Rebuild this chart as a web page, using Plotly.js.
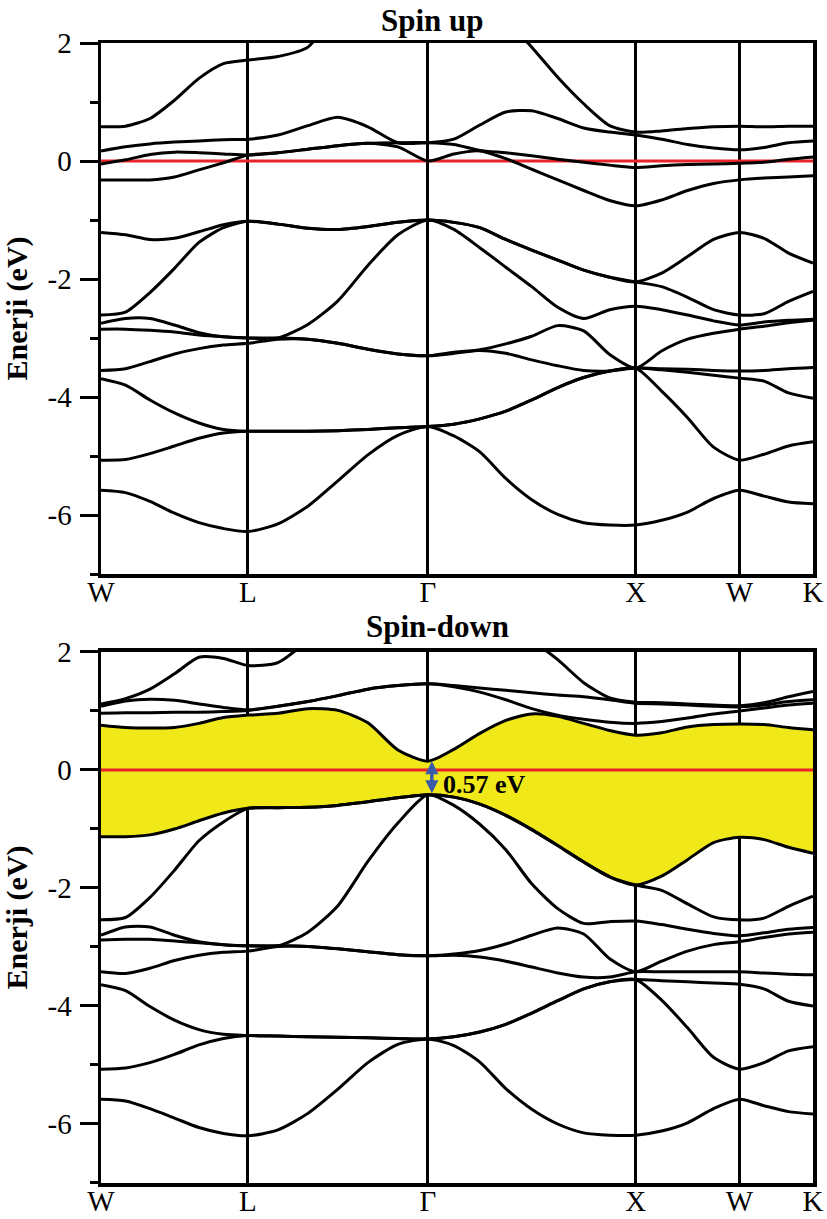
<!DOCTYPE html>
<html><head><meta charset="utf-8">
<script src="https://cdn.plot.ly/plotly-3.0.1.min.js"></script>
<style>html,body{margin:0;padding:0;background:#fff}</style>
</head><body><div id="chart" style="width:827px;height:1219px"></div>
<script>
// High-symmetry path (k in units of 2π/a)
const kLabels = ['W', 'L', 'Γ', 'X', 'W', 'K'];
const kPoints = [0, 0.7071, 1.5731, 2.5731, 3.0731, 3.4267];
const kGrid = [0, 0.1179, 0.2357, 0.3536, 0.4714, 0.5893, 0.7071,
  0.8514, 0.9958, 1.1401, 1.2845, 1.4288, 1.5731,
  1.6981, 1.8231, 1.9481, 2.0731, 2.1981, 2.3231, 2.4481, 2.5731,
  2.6981, 2.8231, 2.9481, 3.0731,
  3.1910, 3.3088, 3.4267];
const yTickVals = [-6, -4, -2, 0, 2];
const yTickText = ['-6', '-4', '-2', '0', '2'];

// Spin up bands (eV)
const up1 = [-5.58,-5.62,-5.77,-5.97,-6.13,-6.23,-6.28, -6.15,-5.85,-5.42,-4.98,-4.65,-4.50, -4.66,-4.93,-5.38,-5.74,-5.99,-6.13,-6.17,-6.17, -6.09,-5.95,-5.72,-5.58, -5.68,-5.78,-5.81];
const up2 = [-5.07,-5.06,-4.96,-4.83,-4.70,-4.61,-4.58, -4.58,-4.58,-4.57,-4.55,-4.52,-4.50, -4.46,-4.37,-4.24,-4.05,-3.84,-3.67,-3.56,-3.51, -3.90,-4.35,-4.85,-5.07, -4.97,-4.83,-4.76];
const up3 = [-3.69,-3.80,-4.05,-4.27,-4.44,-4.55,-4.58, -4.58,-4.58,-4.57,-4.55,-4.52,-4.50, -4.46,-4.37,-4.24,-4.05,-3.84,-3.67,-3.56,-3.51, -3.54,-3.58,-3.63,-3.68, -3.73,-3.93,-4.02];
const up4 = [-3.55,-3.52,-3.40,-3.27,-3.18,-3.12,-3.09, -3.02,-3.02,-3.09,-3.19,-3.27,-3.30, -3.24,-3.21,-3.26,-3.37,-3.47,-3.55,-3.56,-3.51, -3.52,-3.53,-3.55,-3.56, -3.55,-3.52,-3.50];
const up5 = [-2.85,-2.85,-2.87,-2.90,-2.95,-2.98,-3.00, -3.00,-3.02,-3.09,-3.19,-3.27,-3.30, -3.26,-3.20,-3.10,-2.97,-2.79,-2.88,-3.28,-3.51, -3.22,-3.02,-2.92,-2.85, -2.80,-2.74,-2.70];
const up6 = [-2.75,-2.67,-2.67,-2.78,-2.91,-2.98,-3.00, -3.00,-2.77,-2.37,-1.77,-1.25,-1.00, -1.16,-1.47,-1.80,-2.13,-2.48,-2.67,-2.52,-2.46, -2.52,-2.61,-2.71,-2.78, -2.73,-2.70,-2.68];
const up7 = [-2.61,-2.56,-2.23,-1.82,-1.38,-1.13,-1.02, -1.07,-1.14,-1.16,-1.11,-1.04,-1.00, -1.04,-1.13,-1.33,-1.51,-1.68,-1.85,-1.97,-2.05, -2.13,-2.31,-2.52,-2.61, -2.59,-2.38,-2.21];
const up8 = [-1.21,-1.25,-1.33,-1.31,-1.20,-1.08,-1.02, -1.07,-1.14,-1.16,-1.11,-1.04,-1.00, -1.04,-1.13,-1.33,-1.51,-1.68,-1.85,-1.97,-2.05, -1.90,-1.62,-1.33,-1.21, -1.31,-1.56,-1.73];
const up9 = [-0.32,-0.32,-0.32,-0.27,-0.15,-0.03,0.10, 0.14,0.20,0.26,0.30,0.24,0.00, 0.12,0.17,0.04,-0.14,-0.32,-0.50,-0.67,-0.76, -0.66,-0.50,-0.38,-0.32, -0.29,-0.27,-0.25];
const up10 = [-0.05,0.02,0.11,0.15,0.14,0.12,0.10, 0.14,0.20,0.26,0.30,0.31,0.31, 0.28,0.18,0.14,0.09,0.03,-0.02,-0.07,-0.11, -0.08,-0.06,-0.05,-0.04, -0.02,0.03,0.07];
const up11 = [0.17,0.24,0.29,0.32,0.34,0.36,0.37, 0.44,0.60,0.74,0.58,0.31,0.31, 0.37,0.61,0.83,0.85,0.72,0.56,0.49,0.44, 0.37,0.28,0.22,0.19, 0.23,0.31,0.34];
const up12 = [0.58,0.59,0.72,1.03,1.40,1.65,1.71, 1.77,1.93,2.60,3.20,3.50,3.60, 3.50,3.00,2.40,1.93,1.42,0.97,0.60,0.49, 0.51,0.55,0.58,0.59, 0.58,0.59,0.59];

// Spin down bands (eV)
const dn1 = [-5.58,-5.61,-5.74,-5.90,-6.06,-6.16,-6.20, -6.10,-5.82,-5.41,-4.96,-4.65,-4.56, -4.67,-4.95,-5.40,-5.75,-6.00,-6.15,-6.19,-6.19, -6.12,-5.98,-5.74,-5.58, -5.69,-5.79,-5.83];
const dn2 = [-5.07,-5.05,-4.96,-4.82,-4.66,-4.55,-4.50, -4.51,-4.52,-4.53,-4.54,-4.55,-4.56, -4.52,-4.44,-4.31,-4.12,-3.91,-3.71,-3.59,-3.55, -3.90,-4.37,-4.87,-5.07, -4.96,-4.76,-4.69];
const dn3 = [-3.64,-3.74,-4.01,-4.24,-4.40,-4.48,-4.50, -4.51,-4.52,-4.53,-4.54,-4.55,-4.56, -4.52,-4.44,-4.31,-4.12,-3.91,-3.71,-3.59,-3.55, -3.57,-3.59,-3.61,-3.63, -3.71,-3.92,-4.00];
const dn4 = [-3.42,-3.45,-3.36,-3.23,-3.14,-3.09,-3.07, -2.99,-2.99,-3.03,-3.08,-3.13,-3.15, -3.14,-3.17,-3.24,-3.34,-3.44,-3.51,-3.51,-3.42, -3.42,-3.42,-3.42,-3.42, -3.44,-3.46,-3.47];
const dn5 = [-2.88,-2.87,-2.87,-2.90,-2.93,-2.96,-2.98, -2.98,-2.99,-3.03,-3.08,-3.13,-3.15, -3.12,-3.06,-2.95,-2.80,-2.68,-2.78,-3.20,-3.42, -3.24,-3.07,-2.96,-2.91, -2.84,-2.78,-2.75];
const dn6 = [-2.80,-2.66,-2.66,-2.80,-2.91,-2.96,-2.98, -2.98,-2.75,-2.30,-1.55,-0.90,-0.42, -0.60,-0.92,-1.35,-1.93,-2.35,-2.60,-2.57,-2.56, -2.62,-2.70,-2.77,-2.81, -2.76,-2.70,-2.67];
const dn7 = [-2.54,-2.50,-2.16,-1.70,-1.20,-0.88,-0.65, -0.64,-0.63,-0.60,-0.54,-0.47,-0.42, -0.46,-0.58,-0.77,-1.01,-1.28,-1.56,-1.81,-1.95, -2.04,-2.27,-2.49,-2.54, -2.51,-2.31,-2.14];
const dn8 = [-1.13,-1.13,-1.10,-1.00,-0.86,-0.73,-0.65, -0.64,-0.63,-0.60,-0.54,-0.47,-0.42, -0.46,-0.58,-0.77,-1.01,-1.28,-1.56,-1.81,-1.95, -1.80,-1.52,-1.23,-1.14, -1.18,-1.31,-1.41];
const dn9 = [0.76,0.72,0.71,0.72,0.79,0.89,0.93, 0.96,1.04,1.01,0.80,0.34,0.15, 0.35,0.62,0.84,0.95,0.91,0.79,0.67,0.59, 0.63,0.73,0.77,0.78, 0.77,0.72,0.68];
const dn10 = [0.96,0.97,0.97,0.98,0.98,0.99,1.01, 1.08,1.16,1.26,1.37,1.43,1.46, 1.41,1.32,1.19,1.04,0.93,0.86,0.81,0.79, 0.82,0.88,0.95,1.00, 1.05,1.10,1.13];
const dn11 = [1.08,1.17,1.20,1.18,1.12,1.06,1.02, 1.08,1.16,1.26,1.37,1.43,1.46, 1.43,1.39,1.35,1.31,1.27,1.24,1.19,1.13, 1.12,1.10,1.08,1.07, 1.10,1.16,1.19];
const dn12 = [1.12,1.21,1.37,1.63,1.91,1.89,1.77, 1.82,2.20,2.70,3.10,3.40,3.50, 3.30,2.90,2.50,2.20,1.87,1.48,1.22,1.15, 1.14,1.12,1.10,1.09, 1.14,1.24,1.33];

const gapText = '<b>0.57 eV</b>';
const fermiLevel = [0, 0];

const upBands = [up1, up2, up3, up4, up5, up6, up7, up8, up9, up10, up11, up12];
const dnBands = [dn1, dn2, dn3, dn4, dn5, dn6, dn7, dn8, dn9, dn10, dn11, dn12];

const SERIF = 'Liberation Serif';
const bandLine = {color: '#000', width: 3, shape: 'spline', smoothing: 0.7};
const traces = [];

// Yellow gap region in spin-down panel (between VBM band dn8 and CBM band dn9)
traces.push({x: kGrid, y: dn8, xaxis: 'x2', yaxis: 'y2', mode: 'lines',
  line: {color: 'rgba(0,0,0,0)', width: 0, shape: 'spline', smoothing: 0.7}, hoverinfo: 'skip', showlegend: false});
traces.push({x: kGrid, y: dn9, xaxis: 'x2', yaxis: 'y2', mode: 'lines', fill: 'tonexty',
  fillcolor: '#f0e818', line: {color: 'rgba(0,0,0,0)', width: 0, shape: 'spline', smoothing: 0.7}, hoverinfo: 'skip', showlegend: false});

// Fermi level
const kEnds = [kPoints[0], kPoints[kPoints.length - 1]];
traces.push({x: kEnds, y: fermiLevel, xaxis: 'x', yaxis: 'y', mode: 'lines', line: {color: '#e8232a', width: 3}, showlegend: false});
traces.push({x: kEnds, y: fermiLevel, xaxis: 'x2', yaxis: 'y2', mode: 'lines', line: {color: '#e8232a', width: 3}, showlegend: false});

upBands.forEach(b => traces.push({x: kGrid, y: b, xaxis: 'x', yaxis: 'y', mode: 'lines', line: bandLine, showlegend: false}));
dnBands.forEach(b => traces.push({x: kGrid, y: b, xaxis: 'x2', yaxis: 'y2', mode: 'lines', line: bandLine, showlegend: false}));

function xAxis(anchor) {
  return {anchor: anchor, domain: [0, 1], range: [kPoints[0], kPoints[kPoints.length - 1]],
    tickmode: 'array', tickvals: kPoints, ticktext: kLabels, ticks: '', ticklen: 0,
    ticklabelstandoff: -10,
    showgrid: true, gridcolor: '#000', gridwidth: 3,
    showline: true, linecolor: '#000', linewidth: 3.5, mirror: true, zeroline: false,
    tickfont: {family: SERIF, size: 29, color: '#000'}, fixedrange: true};
}
function yAxis(anchor, domain) {
  return {anchor: anchor, domain: domain, range: [-7, 2], autorange: false,
    tickmode: 'array', tickvals: yTickVals, ticktext: yTickText,
    ticks: 'outside', ticklen: 18, tickwidth: 3, tickcolor: '#000',
    minor: {tickmode: 'linear', tick0: 0, dtick: 1, ticks: 'outside', ticklen: 8, tickwidth: 3, tickcolor: '#000', showgrid: false},
    showline: true, linecolor: '#000', linewidth: 3.5, mirror: true, zeroline: false, showgrid: false,
    ticklabelstandoff: 2,
    tickfont: {family: SERIF, size: 29, color: '#000'},
    title: {text: '<b>Enerji (eV)</b>', font: {family: SERIF, size: 30, color: '#000'}, standoff: 14},
    fixedrange: true};
}

const layout = {
  width: 827, height: 1219,
  margin: {l: 101, r: 14, t: 43, b: 36},
  paper_bgcolor: '#fff', plot_bgcolor: '#fff',
  font: {family: SERIF, color: '#000'},
  showlegend: false,
  xaxis: xAxis('y'),
  yaxis: yAxis('x', [0.5342, 1]),
  xaxis2: xAxis('y2'),
  yaxis2: yAxis('x2', [0, 0.4658]),
  annotations: [
    {text: '<b>Spin up</b>', xref: 'paper', yref: 'paper', x: 0.465, y: 1.0198, xanchor: 'center', yanchor: 'middle', showarrow: false, font: {family: SERIF, size: 31, color: '#000'}},
    {text: '<b>Spin-down</b>', xref: 'paper', yref: 'paper', x: 0.472, y: 0.4885, xanchor: 'center', yanchor: 'middle', showarrow: false, font: {family: SERIF, size: 31, color: '#000'}},
    {x: kPoints[2], y: dn9[12], ax: kPoints[2], ay: dn8[12], xref: 'x2', yref: 'y2', axref: 'x2', ayref: 'y2', xshift: 4,
      text: '', showarrow: true, arrowside: 'end+start', arrowhead: 2, startarrowhead: 2, arrowsize: 0.75, startarrowsize: 0.75, arrowwidth: 3.5, arrowcolor: '#3a5aab', standoff: 0, startstandoff: 0},
    {x: kPoints[2], y: -0.24, xref: 'x2', yref: 'y2', xanchor: 'left', yanchor: 'middle', xshift: 13,
      text: gapText, showarrow: false, font: {family: SERIF, size: 26, color: '#000'}}
  ]
};

Plotly.newPlot('chart', traces, layout, {staticPlot: true, displayModeBar: false});
</script></body></html>
